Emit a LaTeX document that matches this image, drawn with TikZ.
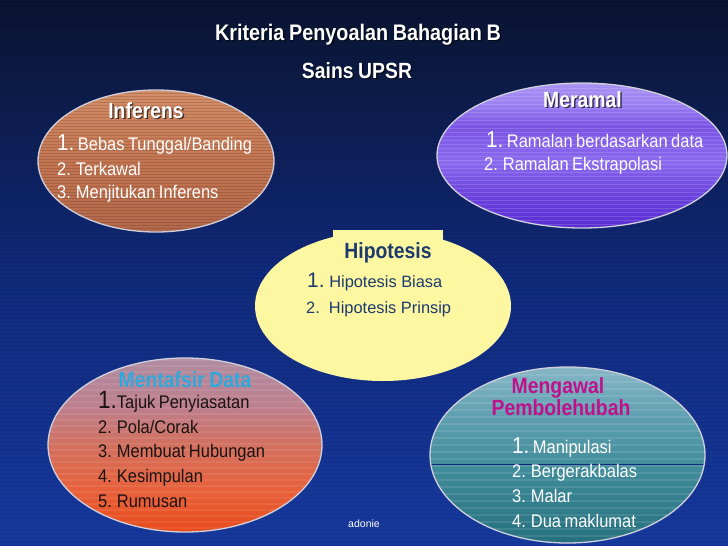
\documentclass[tikz,border=0pt]{standalone}
\usepackage{fontspec}
\setmainfont{Liberation Sans}
\newfontfamily\narf[FakeStretch=0.9,WordSpace=0.75]{Liberation Sans}
\newfontfamily\narb[FakeStretch=0.88,WordSpace=0.85]{Liberation Sans Bold}
\definecolor{bgtop}{HTML}{0A1430}
\definecolor{bgmid}{HTML}{10297A}
\definecolor{bgbot}{HTML}{16399E}
\definecolor{rimc}{HTML}{D0D0DC}
\definecolor{hipo}{HTML}{FCF7A0}
\definecolor{hipotxt}{HTML}{1C3A6E}
\definecolor{mentc}{HTML}{2FA8DC}
\definecolor{mengc}{HTML}{C0108C}
\definecolor{darktxt}{HTML}{1A1212}
\definecolor{ia}{HTML}{B4684A}\definecolor{ib}{HTML}{C47652}\definecolor{ic}{HTML}{D48E68}
\definecolor{ma}{HTML}{5A2ED4}\definecolor{mb}{HTML}{6C44DE}\definecolor{mc}{HTML}{8A6AEE}
\definecolor{md}{HTML}{7A54E4}\definecolor{me}{HTML}{9C82F2}\definecolor{mf}{HTML}{A891F2}
\definecolor{na}{HTML}{E84A1A}\definecolor{nb}{HTML}{E8603A}\definecolor{nc}{HTML}{D2705E}
\definecolor{nd}{HTML}{BC8090}\definecolor{ne}{HTML}{B08CA0}
\definecolor{ga}{HTML}{26707E}\definecolor{gb}{HTML}{3E8A98}\definecolor{gc}{HTML}{5C9EAE}
\definecolor{gd}{HTML}{86B6C6}
\pgfdeclareverticalshading{infsh}{100bp}{color(0bp)=(ia); color(25bp)=(ia); color(50bp)=(ib); color(75bp)=(ic); color(100bp)=(ic)}
\pgfdeclareverticalshading{mersh}{100bp}{color(0bp)=(ma); color(25bp)=(ma); color(37bp)=(mb); color(48bp)=(mc); color(60bp)=(md); color(68bp)=(me); color(75bp)=(mf); color(100bp)=(mf)}
\pgfdeclareverticalshading{mensh}{100bp}{color(0bp)=(na); color(25bp)=(na); color(37bp)=(nb); color(50bp)=(nc); color(62bp)=(nd); color(75bp)=(ne); color(100bp)=(ne)}
\pgfdeclareverticalshading{mgsh}{100bp}{color(0bp)=(ga); color(25bp)=(ga); color(45bp)=(gb); color(60bp)=(gc); color(75bp)=(gd); color(100bp)=(gd)}
\pgfdeclareverticalshading{bgsh}{100bp}{color(0bp)=(bgbot); color(25bp)=(bgbot); color(50bp)=(bgmid); color(75bp)=(bgtop); color(100bp)=(bgtop)}
\newcommand\bigone{{\fontsize{23}{23}\selectfont 1.}}
\tikzset{
  ttl/.style={font=\narb\fontsize{22}{22}\selectfont, inner sep=0pt, anchor=base},
  itm/.style={font=\narf\fontsize{18.3}{18.3}\selectfont, inner sep=0pt, anchor=base west},
  hitm/.style={font=\fontsize{16.4}{16.4}\selectfont, inner sep=0pt, anchor=base west, text=hipotxt},
  shd/.style={text=black, opacity=0.65},
  rim/.style={draw=rimc, line width=1.3pt},
  stripe/.style={line width=0.9pt, opacity=0.14},
}
\begin{document}
\begin{tikzpicture}[x=1pt,y=-1pt]
\useasboundingbox (0,0) rectangle (728,546);
% background
\shade[shading=bgsh] (0,0) rectangle (728,546);
\foreach \yy in {2,6,...,546} \draw[black, line width=0.6pt, opacity=0.07] (0,\yy) -- (728,\yy);

% Inferens ellipse
\shade[shading=infsh] (156,161) ellipse [x radius=118, y radius=71];
\begin{scope}
  \clip (156,161) ellipse [x radius=118, y radius=71];
  \foreach \yy in {90,93,...,233} \draw[stripe, black] (36,\yy) -- (276,\yy);
\end{scope}
\draw[rim] (156,161) ellipse [x radius=118, y radius=71];

% Meramal ellipse
\shade[shading=mersh] (582,155.5) ellipse [x radius=145, y radius=72.5];
\begin{scope}
  \clip (582,155.5) ellipse [x radius=145, y radius=72.5];
  \foreach \yy in {84,88,...,228} \draw[stripe, white] (435,\yy) -- (729,\yy);
\end{scope}
\draw[rim] (582,155.5) ellipse [x radius=145, y radius=72.5];

% Hipotesis ellipse
\fill[hipo] (383,306) ellipse [x radius=128, y radius=75];
\fill[hipo] (333,230) rectangle (443,245);

% Mentafsir ellipse
\shade[shading=mensh] (185,445) ellipse [x radius=137, y radius=87];
\begin{scope}
  \clip (185,445) ellipse [x radius=137, y radius=87];
  \foreach \yy in {360,366,...,532} \draw[white, line width=2pt, opacity=0.08] (46,\yy) -- (324,\yy);
\end{scope}
\draw[rim] (185,445) ellipse [x radius=137, y radius=87];

% Mengawal ellipse
\shade[shading=mgsh] (567.5,455) ellipse [x radius=137.5, y radius=88];
\begin{scope}
  \clip (567.5,455) ellipse [x radius=137.5, y radius=88];
  \foreach \yy in {368,375,...,543} \draw[white, line width=2.5pt, opacity=0.10] (428,\yy) -- (707,\yy);
  \draw[bgmid, line width=0.7pt] (428,464) -- (707,464);
\end{scope}
\draw[rim] (567.5,455) ellipse [x radius=137.5, y radius=88];

% main title
\node[ttl, shd, font=\narb\fontsize{22.5}{22.5}\selectfont] (t1s) at (359.4,41.4) {Kriteria Penyoalan Bahagian B};
\node[ttl, text=white, font=\narb\fontsize{22.5}{22.5}\selectfont] (t1) at (358,40) {Kriteria Penyoalan Bahagian B};
\node[ttl, shd] (t2s) at (358.4,79.7) {Sains UPSR};
\node[ttl, text=white] (t2) at (357,78.3) {Sains UPSR};

% Inferens
\node[ttl, shd] (infs) at (147.4,119.7) {Inferens};
\node[ttl, text=white] (inf) at (146,118.3) {Inferens};
\node[itm, text=white] (inf1) at (57,150) {\bigone\ Bebas Tunggal/Banding};
\node[itm, text=white] (inf2) at (57,175) {2. Terkawal};
\node[itm, text=white] (inf3) at (57,198) {3. Menjitukan Inferens};

% Meramal
\node[ttl, shd] (mers) at (583.9,108.4) {Meramal};
\node[ttl, text=white] (mer) at (582.5,107) {Meramal};
\node[itm, text=white] (mer1) at (486,147) {\bigone\ Ramalan berdasarkan data};
\node[itm, text=white] (mer2) at (484,170) {2. Ramalan Ekstrapolasi};

% Hipotesis
\node[ttl, text=hipotxt] (hip) at (388,258) {Hipotesis};
\node[hitm] (hip1) at (307,287) {{\fontsize{21}{21}\selectfont 1.}\ Hipotesis Biasa};
\node[hitm] (hip2) at (306,313) {2.\ \ Hipotesis Prinsip};

% Mentafsir Data
\node[ttl, text=mentc] (men) at (185,387) {Mentafsir Data};
\node[itm, text=darktxt] (men1) at (98,408) {{\fontsize{25}{25}\selectfont 1.}Tajuk Penyiasatan};
\node[itm, text=darktxt] (men2) at (98,433) {2. Pola/Corak};
\node[itm, text=darktxt] (men3) at (98,457) {3. Membuat Hubungan};
\node[itm, text=darktxt] (men4) at (98,482) {4. Kesimpulan};
\node[itm, text=darktxt] (men5) at (98,507) {5. Rumusan};

% Mengawal Pembolehubah
\node[ttl, text=mengc] (mg1) at (558,393) {Mengawal};
\node[ttl, text=mengc] (mg2) at (561,415) {Pembolehubah};
\node[itm, text=white] (mgi1) at (512,453) {\bigone\ Manipulasi};
\node[itm, text=white] (mgi2) at (512,477) {2. Bergerakbalas};
\node[itm, text=white] (mgi3) at (512,502) {3. Malar};
\node[itm, text=white] (mgi4) at (512,527) {4. Dua maklumat};

% footer
\node[inner sep=0pt, anchor=base, text=white, font=\fontsize{10.5}{10.5}\selectfont] (ftr) at (364,527) {adonie};
\end{tikzpicture}
\end{document}
